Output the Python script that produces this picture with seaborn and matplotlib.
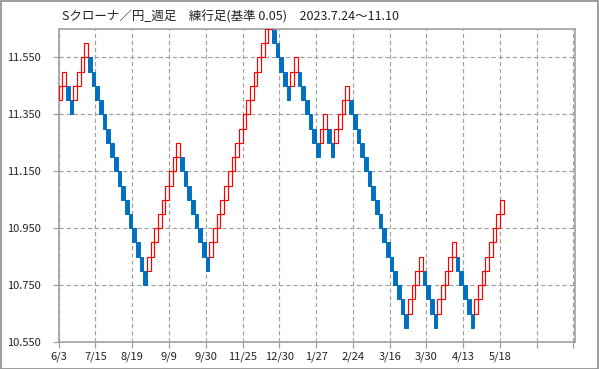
import numpy as np
import pandas as pd
import matplotlib
matplotlib.use('Agg')
import matplotlib.pyplot as plt
import seaborn as sns

# renko bricks (box = 0.05): closing level of each brick, u = up (red), d = down (blue)
box = 0.05
brick_close = [
    11.45, 11.50, 11.40, 11.35, 11.45, 11.50, 11.55, 11.60,
    11.50, 11.45, 11.40, 11.35, 11.30, 11.25, 11.20, 11.15,
    11.10, 11.05, 11.00, 10.95, 10.90, 10.85, 10.80, 10.75,
    10.85, 10.90, 10.95, 11.00, 11.05, 11.10, 11.15, 11.20, 11.25,
    11.15, 11.10, 11.05, 11.00, 10.95, 10.90, 10.85, 10.80,
    10.90, 10.95, 11.00, 11.05, 11.10, 11.15, 11.20, 11.25, 11.30,
    11.35, 11.40, 11.45, 11.50, 11.55, 11.60, 11.65, 11.70,
    11.60, 11.55, 11.50, 11.45, 11.40,
    11.50, 11.55,
    11.45, 11.40, 11.35, 11.30, 11.25, 11.20,
    11.30, 11.35,
    11.25, 11.20,
    11.30, 11.35, 11.40, 11.45,
    11.35, 11.30, 11.25, 11.20, 11.15, 11.10, 11.05, 11.00,
    10.95, 10.90, 10.85, 10.80, 10.75, 10.70, 10.65, 10.60,
    10.70, 10.75, 10.80, 10.85,
    10.75, 10.70, 10.65, 10.60,
    10.70, 10.75, 10.80, 10.85, 10.90,
    10.80, 10.75, 10.70, 10.65, 10.60,
    10.70, 10.75, 10.80, 10.85, 10.90, 10.95, 11.00, 11.05,
]
brick_dir = ("uu" "dd" "uuuu" "dddddddddddddddd" "uuuuuuuuu" "dddddddd"
             "uuuuuuuuuuuuuuuuu" "ddddd" "uu" "dddddd" "uu" "dd" "uuuu"
             "dddddddddddddddd" "uuuu" "dddd" "uuuuu" "ddddd" "uuuuuuuu")

x_labels = ['6/3', '7/15', '8/19', '9/9', '9/30', '11/25', '12/30', '1/27',
            '2/24', '3/16', '3/30', '4/13', '5/18', '', '']
y_ticks = [10.55, 10.75, 10.95, 11.15, 11.35, 11.55]
title = 'Sクローナ／円_週足　練行足(基準 0.05)　2023.7.24〜11.10'

df = pd.DataFrame({'close': brick_close, 'dir': list(brick_dir)})
df['idx'] = np.arange(len(df))
df['low'] = np.where(df['dir'] == 'u', df['close'] - box, df['close'])

sns.set_style('white')
plt.rcParams['font.family'] = ['Noto Sans CJK JP', 'DejaVu Sans']

fig = plt.figure(figsize=(5.99, 3.69), dpi=100)
ax = fig.add_axes([58.7 / 599, 1 - 342 / 369, (575.3 - 58.7) / 599, (342 - 29) / 369])

dn = df[df['dir'] == 'd']
up = df[df['dir'] == 'u']
ax.bar(dn['idx'], box, bottom=dn['low'], width=1, align='edge',
       color='#0070c0', edgecolor='#0070c0', linewidth=0.7, zorder=2)
ax.bar(up['idx'], box, bottom=up['low'], width=1, align='edge',
       facecolor='none', edgecolor='#ff0000', linewidth=0.85, zorder=3)

ax.set_xlim(0, 140.5)
ax.set_ylim(10.55, 11.65)
ax.set_xticks(np.arange(0, 10 * len(x_labels), 10))
ax.set_xticklabels(x_labels)
ax.set_yticks(y_ticks)
ax.set_yticklabels(['{:.3f}'.format(v) for v in y_ticks])

ax.set_axisbelow(True)
ax.grid(True, color='#a0a0a0', linestyle=(0, (3.6, 2.4)), linewidth=0.85)
for s in ax.spines.values():
    s.set_color('#a0a0a0')
    s.set_linewidth(1.2)
ax.tick_params(bottom=True, left=True, length=4, width=0.9, color='#a0a0a0',
               labelsize=8, labelcolor='#222222')
ax.tick_params(axis='y', pad=9)
ax.tick_params(axis='x', pad=3)

fig.text(62 / 599, 1 - 17 / 369, title, fontsize=9, va='center', ha='left', color='#222222')
fig.add_artist(plt.Rectangle((0.001, 0.001), 0.997, 0.996, transform=fig.transFigure,
                             fill=False, edgecolor='#8c8c8c', linewidth=1.2))

fig.savefig('out.png', dpi=100)
